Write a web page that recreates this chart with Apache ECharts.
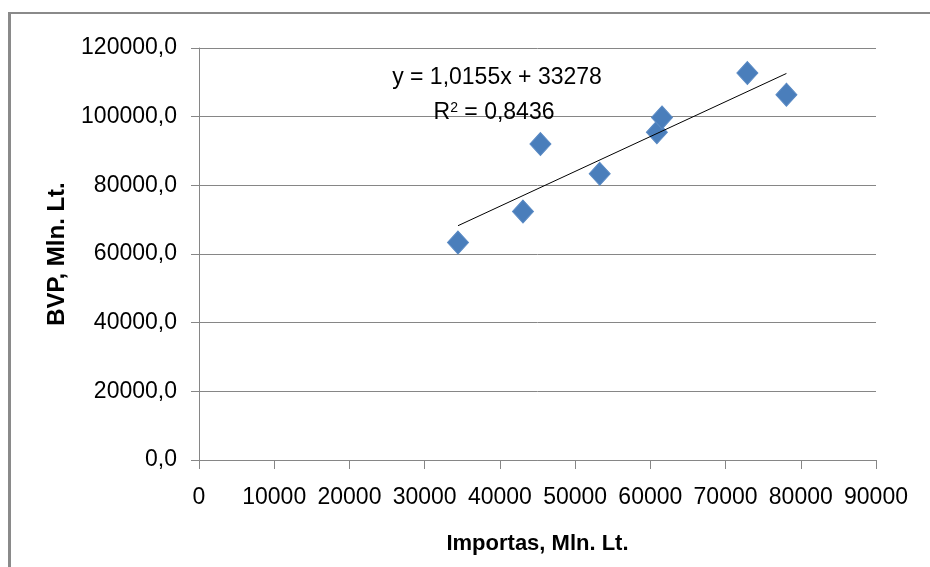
<!DOCTYPE html>
<html>
<head>
<meta charset="utf-8">
<script src="https://cdn.jsdelivr.net/npm/echarts@6/dist/echarts.min.js"></script>
<style>
html,body{margin:0;padding:0;background:#fff;}
#chart{width:930px;height:567px;}
</style>
</head>
<body>
<div id="chart"></div>
<script>
// Data
var importas = [34430, 43070, 45390, 53270, 60870, 61550, 72900, 78090];
var bvp      = [63340, 72370, 92020, 83360, 95450, 99770, 112700, 106390];
// Trend line as printed on the chart: y = 1,0155x + 33278
var trendSlope = 1.0155;
var trendIntercept = 33278;
var trendRangeX = [34430, 78090];
var equationLine1 = 'y = 1,0155x + 33278';
var equationLine2 = 'R{sup|2} = 0,8436';
var xAxisTitle = 'Importas, Mln. Lt.';
var yAxisTitle = 'BVP, Mln. Lt.';

var points = importas.map(function (x, i) { return [x, bvp[i]]; });
var trendData = trendRangeX.map(function (x) { return [x, trendSlope * x + trendIntercept]; });

var FONT = "'Liberation Sans', Arial, sans-serif";
var chart = echarts.init(document.getElementById('chart'), null, {renderer: 'canvas'});
chart.setOption({
  animation: false,
  backgroundColor: '#ffffff',
  grid: {left: 199, top: 48, width: 677, height: 412, containLabel: false},
  xAxis: {
    type: 'value', min: 0, max: 90000, interval: 10000,
    name: xAxisTitle, nameLocation: 'middle', nameGap: 73,
    nameTextStyle: {fontFamily: FONT, fontSize: 22, fontWeight: 'bold', color: '#000'},
    axisLine: {show: true, lineStyle: {color: '#868686', width: 1}},
    axisTick: {show: true, length: 9, lineStyle: {color: '#868686'}},
    axisLabel: {
      fontFamily: FONT, fontSize: 23, color: '#000', margin: 26,
      formatter: function (v) { return String(v); }
    },
    splitLine: {show: false}
  },
  yAxis: {
    type: 'value', min: 0, max: 120000, interval: 20000,
    name: yAxisTitle, nameLocation: 'middle', nameGap: 130, nameRotate: 90,
    nameTextStyle: {fontFamily: FONT, fontSize: 24, fontWeight: 'bold', color: '#000'},
    axisLine: {show: true, lineStyle: {color: '#868686', width: 1}},
    axisTick: {show: true, length: 8, lineStyle: {color: '#868686'}},
    axisLabel: {
      fontFamily: FONT, fontSize: 23, color: '#000', margin: 22,
      formatter: function (v) { return v.toFixed(1).replace('.', ','); }
    },
    splitLine: {show: true, lineStyle: {color: '#868686', width: 1}}
  },
  series: [
    {
      type: 'line', data: trendData, symbol: 'none', silent: true, z: 3,
      lineStyle: {color: '#000', width: 1}
    },
    {
      type: 'scatter', data: points, symbol: 'diamond', symbolSize: [21, 23], z: 2,
      itemStyle: {color: '#4A7EBB', opacity: 1, borderColor: '#5A8AC4', borderWidth: 1}
    }
  ],
  graphic: [
    {type: 'line', shape: {x1: 9.5, y1: 12, x2: 9.5, y2: 600}, style: {stroke: '#8a8a8a', lineWidth: 3}},
    {type: 'line', shape: {x1: 8, y1: 13, x2: 940, y2: 13}, style: {stroke: '#8a8a8a', lineWidth: 2}},
    {type: 'text', x: 497, y: 78, z: 10, style: {text: equationLine1, font: '23px ' + FONT, fill: '#000', textAlign: 'center', textVerticalAlign: 'middle'}},
    {type: 'text', x: 494, y: 113, z: 10, style: {
      text: equationLine2, font: '23px ' + FONT, fill: '#000', textAlign: 'center', textVerticalAlign: 'middle',
      rich: {sup: {fontSize: 14, fontFamily: FONT, fill: '#000', verticalAlign: 'top', padding: [0, 0, 10, 0]}}
    }}
  ]
});
</script>
</body>
</html>
